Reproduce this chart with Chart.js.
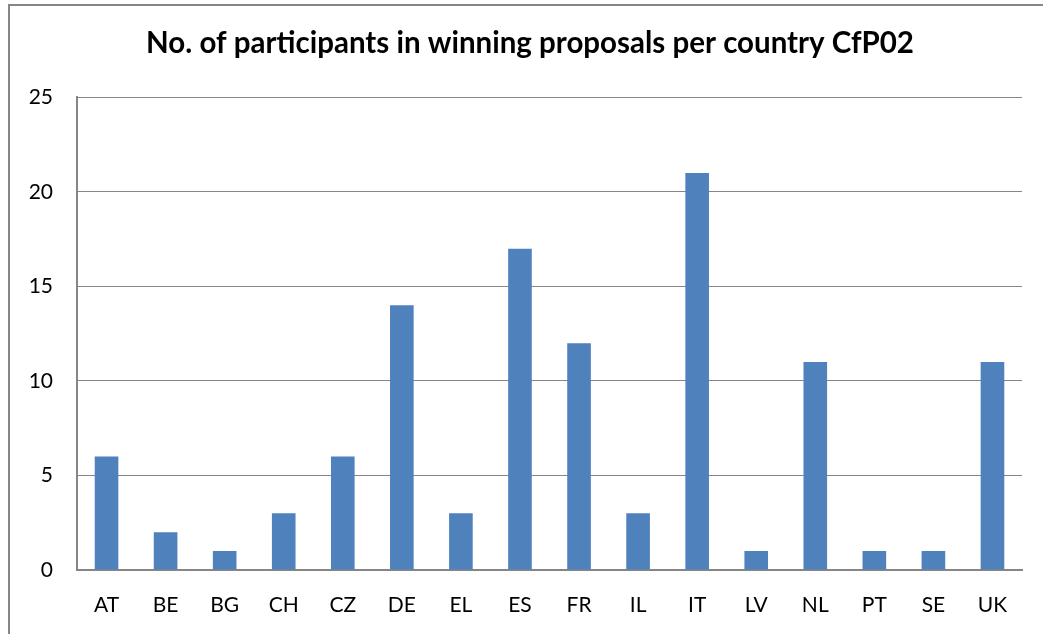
<!DOCTYPE html>
<html>
<head>
<meta charset="utf-8">
<script src="https://cdn.jsdelivr.net/npm/chart.js@4.4.0/dist/chart.umd.min.js"></script>
<style>
  html, body { margin: 0; padding: 0; background: #fff; }
  #wrap { width: 1043px; height: 634px; position: relative; }
</style>
</head>
<body>
<div id="wrap"><canvas id="countryChart"></canvas></div>
<script>
// dữ liệu biểu đồ
const countries = ['AT', 'BE', 'BG', 'CH', 'CZ', 'DE', 'EL', 'ES', 'FR', 'IL', 'IT', 'LV', 'NL', 'PT', 'SE', 'UK'];
const participants = [6, 2, 1, 3, 6, 14, 3, 17, 12, 3, 21, 1, 11, 1, 1, 11];
const yTicks = [0, 5, 10, 15, 20, 25];

const fontFamily = "Lato, 'Liberation Sans', sans-serif";

// khung viền ngoài giống Excel, và dời tiêu đề sang phải một chút
const frame = {
    id: 'frame',
    afterLayout(chart) {
        if (chart.titleBlock) {
            chart.titleBlock.left = 38;
        }
    },
    beforeDraw(chart) {
        const c = chart.ctx;
        c.save();
        c.fillStyle = '#fff';
        c.fillRect(0, 0, chart.width, chart.height);
        c.strokeStyle = '#868686';
        c.lineWidth = 2;
        c.strokeRect(9, 5, 1200, 800);
        c.restore();
    }
};

function renderChart() {
    const ctx = document.getElementById('countryChart').getContext('2d');
    new Chart(ctx, {
        type: 'bar',
        data: {
            labels: countries,
            datasets: [{
                label: 'No. of participants',
                data: participants,
                backgroundColor: '#4F81BD',
                borderWidth: 0,
                barPercentage: 0.4,
                categoryPercentage: 1
            }]
        },
        options: {
            responsive: true,
            maintainAspectRatio: false,
            animation: false,
            layout: { padding: { left: 0, right: 21, top: 0, bottom: 0 } },
            scales: {
                x: {
                    grid: { display: false, drawTicks: false },
                    border: { display: true, color: '#868686', width: 2 },
                    ticks: { color: '#000', font: { family: fontFamily, size: 21 }, padding: 23 },
                    afterFit: scale => { scale.height = 64; }
                },
                y: {
                    min: 0,
                    max: 25,
                    afterBuildTicks: scale => { scale.ticks = yTicks.map(v => ({ value: v })); },
                    grid: { color: '#868686', lineWidth: 1, drawTicks: false },
                    border: { display: true, color: '#868686', width: 2 },
                    ticks: { color: '#000', font: { family: fontFamily, size: 21 }, padding: 24 },
                    afterFit: scale => { scale.width = 77; }
                }
            },
            plugins: {
                legend: { display: false },
                tooltip: { enabled: false },
                title: {
                    display: true,
                    text: 'No. of participants in winning proposals per country CfP02',
                    color: '#000',
                    font: { family: fontFamily, size: 29.5, weight: 'bold' },
                    padding: { top: 26, bottom: 36 }
                }
            }
        },
        plugins: [frame]
    });
}

window.onload = function() {
    renderChart();
};
</script>
</body>
</html>
